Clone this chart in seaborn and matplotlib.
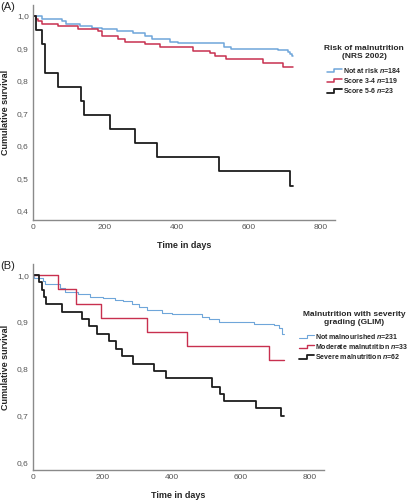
import numpy as np
import pandas as pd
import matplotlib
matplotlib.use("Agg")
import matplotlib.pyplot as plt
from matplotlib.lines import Line2D
from matplotlib.legend_handler import HandlerBase
import seaborn as sns

# ---------------- data ----------------
# Panel A: NRS 2002
a_groups = ["Not at risk $\\mathit{n}$=184", "Score 3-4 $\\mathit{n}$=119", "Score 5-6 $\\mathit{n}$=23"]
a_blue_t = [0, 24, 80, 92, 131, 165, 191, 235, 279, 311, 330, 381, 404, 531, 552, 681, 708, 714, 720, 724]
a_blue_s = [1.0, 0.992, 0.984, 0.977, 0.970, 0.964, 0.960, 0.955, 0.948, 0.938, 0.929, 0.921, 0.916, 0.906, 0.900, 0.895, 0.890, 0.884, 0.878, 0.878]
a_red_t = [0, 7, 15, 25, 70, 126, 181, 191, 237, 255, 311, 353, 445, 492, 506, 538, 640, 695, 718, 724]
a_red_s = [1.0, 0.990, 0.984, 0.975, 0.968, 0.960, 0.953, 0.938, 0.930, 0.920, 0.914, 0.904, 0.893, 0.885, 0.878, 0.869, 0.854, 0.844, 0.842, 0.842]
a_blk_t = [0, 7, 26, 33, 69, 134, 143, 213, 285, 345, 517, 716, 722]
a_blk_s = [1.0, 0.957, 0.913, 0.826, 0.783, 0.739, 0.696, 0.652, 0.609, 0.565, 0.522, 0.478, 0.478]

# Panel B: GLIM
b_groups = ["Not malnourished $\\mathit{n}$=231", "Moderate malnutrition $\\mathit{n}$=33", "Severe malnutrition $\\mathit{n}$=62"]
b_blue_t = [0, 3, 30, 36, 77, 93, 130, 164, 203, 237, 261, 285, 305, 329, 372, 402, 489, 508, 537, 639, 697, 711, 719, 724]
b_blue_s = [1.0, 0.995, 0.987, 0.981, 0.972, 0.965, 0.959, 0.954, 0.952, 0.947, 0.944, 0.938, 0.933, 0.926, 0.920, 0.916, 0.911, 0.907, 0.900, 0.895, 0.893, 0.886, 0.875, 0.875]
b_red_t = [0, 71, 124, 196, 329, 445, 682, 725]
b_red_s = [1.0, 0.970, 0.939, 0.909, 0.879, 0.848, 0.818, 0.818]
b_blk_t = [0, 18, 27, 33, 37, 83, 142, 163, 185, 218, 240, 256, 288, 349, 383, 518, 540, 550, 643, 716, 724]
b_blk_s = [1.0, 0.986, 0.968, 0.954, 0.939, 0.921, 0.906, 0.891, 0.875, 0.859, 0.843, 0.827, 0.810, 0.795, 0.779, 0.761, 0.745, 0.730, 0.715, 0.699, 0.699]

a_ticks = [0.4, 0.5, 0.6, 0.7, 0.8, 0.9, 1.0]
b_ticks = [0.6, 0.7, 0.8, 0.9, 1.0]
x_ticks = [0, 200, 400, 600, 800]

COLORS = ["#6fa6da", "#c8304f", "#1c1c1c"]

# ---------------- style ----------------
sns.set_theme(style="white")
plt.rcParams["font.family"] = ["Liberation Sans", "DejaVu Sans"]
plt.rcParams["mathtext.fontset"] = "custom"
plt.rcParams["mathtext.rm"] = "Liberation Sans:bold"
plt.rcParams["mathtext.it"] = "Liberation Sans:italic:bold"
plt.rcParams["mathtext.bf"] = "Liberation Sans:bold"


def make_df(groups, ts, ss):
    rows = []
    for g, t, s in zip(groups, ts, ss):
        for ti, si in zip(t, s):
            rows.append({"time": ti, "surv": si, "group": g})
    return pd.DataFrame(rows)


class StepHandler(HandlerBase):
    def create_artists(self, legend, orig_handle, xdescent, ydescent,
                       width, height, fontsize, trans):
        x0 = -xdescent
        y0 = -ydescent
        xs = [x0, x0 + 0.5 * width, x0 + 0.5 * width, x0 + width]
        ys = [y0 + 0.1 * height, y0 + 0.1 * height, y0 + 0.8 * height, y0 + 0.8 * height]
        ln = Line2D(xs, ys, color=orig_handle.get_color(),
                    lw=orig_handle.get_linewidth(), transform=trans)
        return [ln]


fig = plt.figure(figsize=(4.08, 5.0), dpi=100)
W, H = 408.0, 500.0
axA = fig.add_axes([33 / W, 1 - 220 / H, (335 - 33) / W, (220 - 5) / H])
axB = fig.add_axes([33 / W, 1 - 470 / H, (324 - 33) / W, (470 - 264) / H])

dfA = make_df(a_groups, [a_blue_t, a_red_t, a_blk_t], [a_blue_s, a_red_s, a_blk_s])
dfB = make_df(b_groups, [b_blue_t, b_red_t, b_blk_t], [b_blue_s, b_red_s, b_blk_s])

sns.lineplot(data=dfA, x="time", y="surv", hue="group", hue_order=a_groups,
             palette=COLORS, estimator=None, drawstyle="steps-post",
             linewidth=1.1, legend=False, ax=axA)
sns.lineplot(data=dfB, x="time", y="surv", hue="group", hue_order=b_groups,
             palette=COLORS, estimator=None, drawstyle="steps-post",
             linewidth=1.0, legend=False, ax=axB)
linesB = axB.get_lines()
linesB[0].set_linewidth(0.8)
linesB[2].set_linewidth(1.3)
axA.get_lines()[2].set_linewidth(1.3)

for ax, ylim, yt in [(axA, (0.372, 1.034), a_ticks), (axB, (0.583, 1.024), b_ticks)]:
    ax.set_xlim(0, 840)
    ax.set_ylim(*ylim)
    ax.set_xticks(x_ticks)
    ax.set_yticks(yt)
    ax.set_yticklabels([f"{v:.1f}".replace(".", ",") for v in yt])
    ax.tick_params(axis="both", length=0, labelsize=6, labelcolor="#555555", pad=3)
    for s in ["top", "right"]:
        ax.spines[s].set_visible(False)
    for s in ["left", "bottom"]:
        ax.spines[s].set_color("#8a8a8a")
        ax.spines[s].set_linewidth(1.0)
    ax.set_xlabel("Time in days", fontsize=6.5, fontweight="bold", labelpad=7)
    ax.set_ylabel("Cumulative survival", fontsize=6.5, fontweight="bold", labelpad=5)

fig.text(0.0, 1 - 7 / H, "(A)", fontsize=8, va="center", ha="left", color="#222222")
fig.text(0.0, 1 - 266 / H, "(B)", fontsize=8, va="center", ha="left", color="#222222")

legfont = {"family": ["Liberation Sans Narrow", "Liberation Sans"], "weight": "bold", "size": 5.0}
for ax, groups, title, cx, ty in [
    (axA, a_groups, "Risk of malnutrition\n(NRS 2002)", 364 / W, 1 - 45 / H),
    (axB, b_groups, "Malnutrition with severity\ngrading (GLIM)", 354 / W, 1 - 311 / H),
]:
    handles = ax.get_lines()[:3]
    leg = fig.legend(handles, groups, loc="upper center", bbox_to_anchor=(cx, ty),
                     frameon=False, prop=legfont, title=title,
                     title_fontproperties={"weight": "bold", "size": 6.0},
                     handler_map={Line2D: StepHandler()},
                     handlelength=2.2, handletextpad=0.15, labelspacing=0.18,
                     borderpad=0, borderaxespad=0)
    leg.get_title().set_multialignment("center")
    leg._legend_box.sep = 4

fig.savefig("out.png", dpi=100)
